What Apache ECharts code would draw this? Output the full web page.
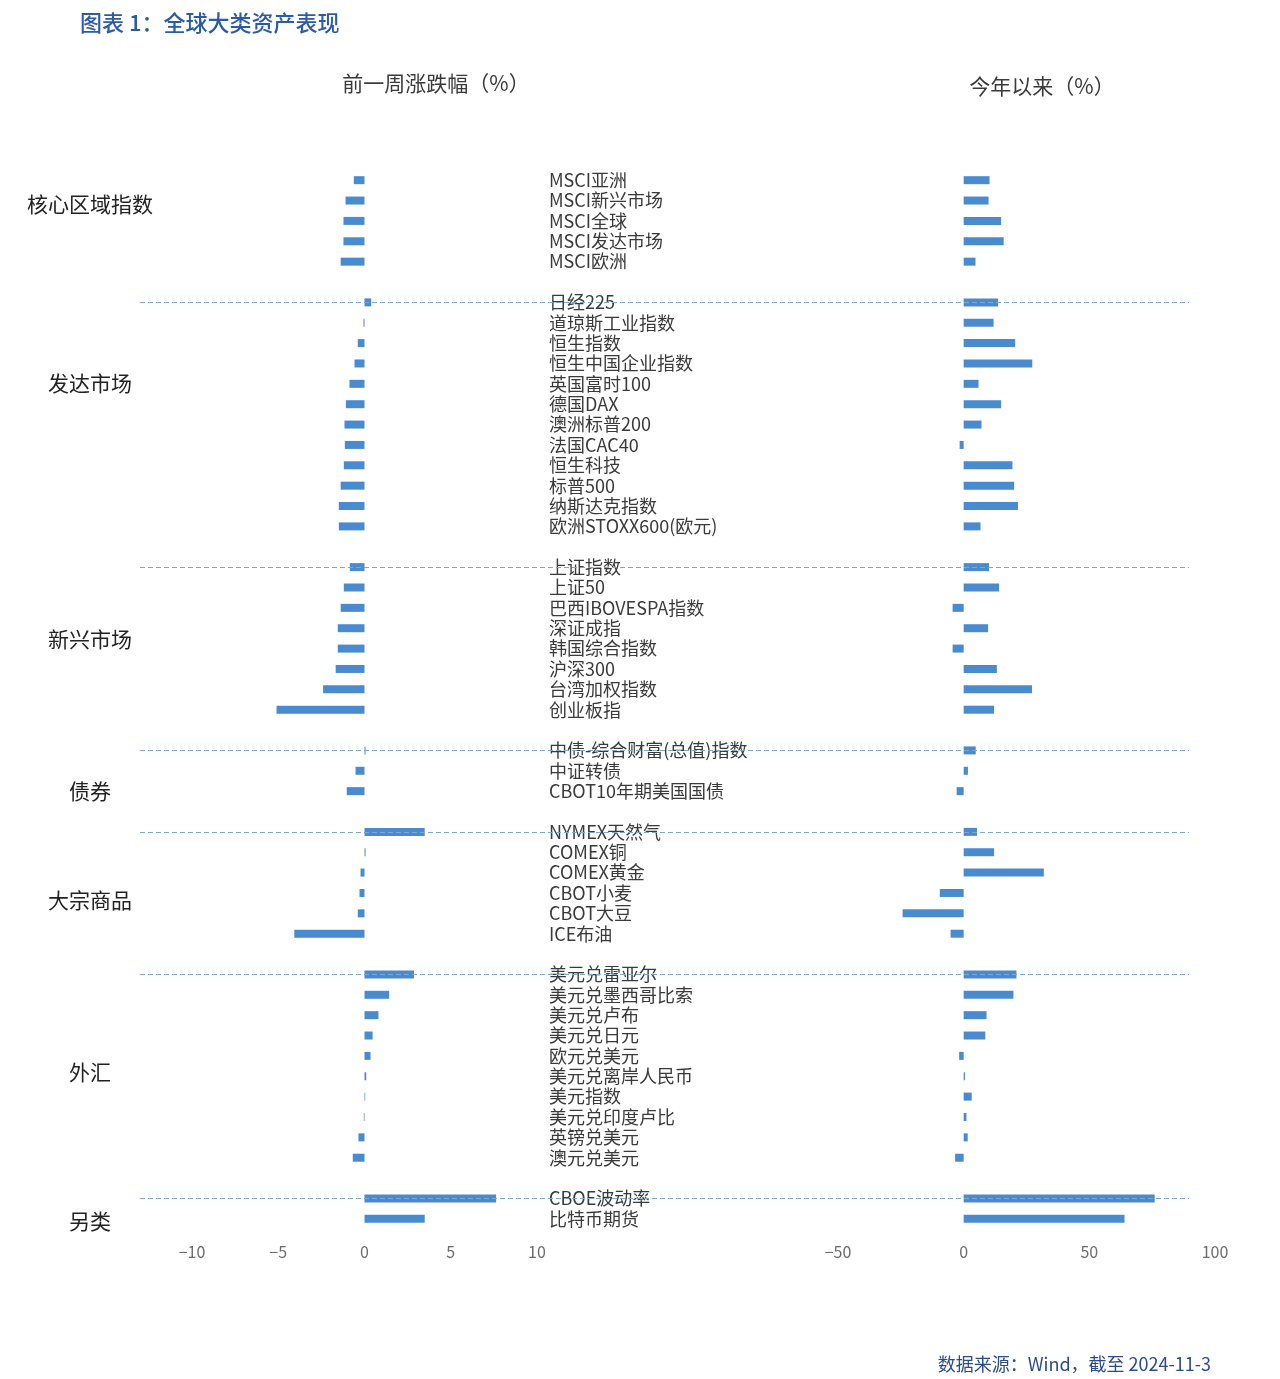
<!DOCTYPE html>
<html>
<head>
<meta charset="utf-8">
<script src="https://cdn.jsdelivr.net/npm/echarts@6/dist/echarts.min.js"></script>
<style>
  html, body { margin: 0; padding: 0; background: #fff; }
  #chart { width: 1280px; height: 1379px; }
</style>
</head>
<body>
<div id="chart"></div>
<script>
// groups of assets, top to bottom
const groupNames = ['核心区域指数', '发达市场', '新兴市场', '债券', '大宗商品', '外汇', '另类']

const coreNames = ['MSCI亚洲', 'MSCI新兴市场', 'MSCI全球', 'MSCI发达市场', 'MSCI欧洲']
const coreWeek = [-0.62, -1.1, -1.22, -1.22, -1.38]
const coreYtd = [10.3, 9.9, 14.9, 15.9, 4.7]

const devNames = ['日经225', '道琼斯工业指数', '恒生指数', '恒生中国企业指数', '英国富时100', '德国DAX', '澳洲标普200', '法国CAC40', '恒生科技', '标普500', '纳斯达克指数', '欧洲STOXX600(欧元)']
const devWeek = [0.39, -0.06, -0.39, -0.58, -0.87, -1.08, -1.16, -1.14, -1.2, -1.38, -1.49, -1.49]
const devYtd = [13.7, 11.9, 20.5, 27.3, 5.9, 14.9, 7.1, -1.6, 19.4, 20.1, 21.6, 6.7]

const emNames = ['上证指数', '上证50', '巴西IBOVESPA指数', '深证成指', '韩国综合指数', '沪深300', '台湾加权指数', '创业板指']
const emWeek = [-0.85, -1.2, -1.38, -1.55, -1.55, -1.67, -2.4, -5.1]
const emYtd = [10.1, 14.1, -4.4, 9.7, -4.4, 13.2, 27.2, 12.1]

const bondNames = ['中债-综合财富(总值)指数', '中证转债', 'CBOT10年期美国国债']
const bondWeek = [0.06, -0.52, -1.03]
const bondYtd = [4.8, 1.7, -2.8]

const cmdNames = ['NYMEX天然气', 'COMEX铜', 'COMEX黄金', 'CBOT小麦', 'CBOT大豆', 'ICE布油']
const cmdWeek = [3.49, 0.06, -0.23, -0.29, -0.39, -4.07]
const cmdYtd = [5.3, 12.1, 31.9, -9.5, -24.3, -5.2]

const fxNames = ['美元兑雷亚尔', '美元兑墨西哥比索', '美元兑卢布', '美元兑日元', '欧元兑美元', '美元兑离岸人民币', '美元指数', '美元兑印度卢比', '英镑兑美元', '澳元兑美元']
const fxWeek = [2.87, 1.43, 0.81, 0.47, 0.35, 0.1, 0.04, -0.04, -0.35, -0.68]
const fxYtd = [21.0, 19.8, 9.1, 8.6, -1.8, 0.5, 3.2, 1.1, 1.6, -3.4]

const altNames = ['CBOE波动率', '比特币期货']
const altWeek = [7.63, 3.49]
const altYtd = [76, 64]

const weekTicks = [-10, 10, 5]   // min, max, step
const ytdTicks = [-50, 100, 50]

// stitch groups together with one blank row between them
const groups = [
  [coreNames, coreWeek, coreYtd],
  [devNames, devWeek, devYtd],
  [emNames, emWeek, emYtd],
  [bondNames, bondWeek, bondYtd],
  [cmdNames, cmdWeek, cmdYtd],
  [fxNames, fxWeek, fxYtd],
  [altNames, altWeek, altYtd]
]
const categories = []
const weekData = []
const ytdData = []
const groupStarts = []
groups.forEach(([names, wk, ytd], gi) => {
  if (gi > 0) {
    categories.push('__gap' + gi)
    weekData.push('-')
    ytdData.push('-')
    groupStarts.push(names[0])
  }
  names.forEach((n, i) => {
    categories.push(n)
    weekData.push(wk[i])
    ytdData.push(ytd[i])
  })
})

const BAR = '#4a8bd0'
const FONT = '"Noto Sans CJK SC", "Noto Sans", sans-serif'
const gridTop = 170
const gridHeight = 1059

// group label y positions (as in the source picture)
const groupLabelY = [204, 383, 639, 791, 900, 1072, 1221]

const chart = echarts.init(document.getElementById('chart'))

const catAxis = (gridIndex, extra) => Object.assign({
  type: 'category',
  gridIndex,
  data: categories,
  inverse: true,
  axisLine: { show: false },
  axisTick: { show: false },
  splitLine: { show: false },
  axisLabel: { show: false }
}, extra)

const valAxis = (gridIndex, ticks, show) => ({
  type: 'value',
  gridIndex,
  min: ticks[0],
  max: ticks[1],
  interval: ticks[2],
  axisLine: { show: false },
  axisTick: { show: false },
  splitLine: { show: false },
  axisLabel: {
    show, color: '#6b6b6b', fontSize: 16, margin: 15, fontFamily: FONT,
    formatter: v => String(v).replace('-', '−')
  }
})

const option = {
  backgroundColor: '#fff',
  animation: false,
  textStyle: { fontFamily: FONT },
  title: [
    { text: '图表 1：全球大类资产表现', left: 80, top: 12, padding: 0,
      textStyle: { color: '#2a5aa8', fontSize: 22, fontWeight: 500, fontFamily: FONT } },
    { text: '前一周涨跌幅（%）', left: 436, top: 73, padding: 0, textAlign: 'center',
      textStyle: { color: '#3a3a3a', fontSize: 21, fontWeight: 'normal', fontFamily: FONT } },
    { text: '今年以来（%）', left: 1042, top: 76, padding: 0, textAlign: 'center',
      textStyle: { color: '#3a3a3a', fontSize: 21, fontWeight: 'normal', fontFamily: FONT } },
    { text: '数据来源：Wind，截至 2024-11-3', right: 69, top: 1355, padding: 0,
      textStyle: { color: '#2b4c8c', fontSize: 18, fontWeight: 'normal', fontFamily: FONT } }
  ],
  grid: [
    { left: 192, width: 345, top: gridTop, height: gridHeight, outerBoundsMode: 'none' },
    { left: 838, width: 377, top: gridTop, height: gridHeight, outerBoundsMode: 'none' },
    { left: 140, width: 1049, top: gridTop, height: gridHeight, outerBoundsMode: 'none' }
  ],
  xAxis: [
    valAxis(0, weekTicks, true),
    valAxis(1, ytdTicks, true),
    { type: 'value', gridIndex: 2, min: 0, max: 1, show: false }
  ],
  yAxis: [
    catAxis(0, {
      position: 'right',
      axisLabel: {
        show: true,
        interval: 0,
        align: 'left',
        margin: 12,
        color: '#3a3a3a',
        fontSize: 18,
        fontFamily: FONT,
        formatter: v => (v.indexOf('__gap') === 0 ? '' : v)
      }
    }),
    catAxis(1),
    catAxis(2, { show: false })
  ],
  series: [
    {
      name: '前一周涨跌幅', type: 'bar', xAxisIndex: 0, yAxisIndex: 0,
      data: weekData, barWidth: 8, itemStyle: { color: BAR }
    },
    {
      name: '今年以来', type: 'bar', xAxisIndex: 1, yAxisIndex: 1,
      data: ytdData, barWidth: 8, itemStyle: { color: BAR }
    },
    {
      name: 'sep', type: 'bar', xAxisIndex: 2, yAxisIndex: 2,
      data: [], silent: true,
      markLine: {
        silent: true,
        symbol: 'none',
        label: { show: false },
        lineStyle: { type: [5, 3], color: '#7ea6d3', width: 1 },
        data: groupStarts.map(n => ({ yAxis: n }))
      }
    }
  ],
  graphic: groupNames.map((g, i) => ({
    type: 'text',
    x: 90,
    y: groupLabelY[i],
    style: {
      text: g,
      fill: '#222',
      font: '21px ' + FONT,
      textAlign: 'center',
      textVerticalAlign: 'middle'
    }
  }))
}

chart.setOption(option)
</script>
</body>
</html>
